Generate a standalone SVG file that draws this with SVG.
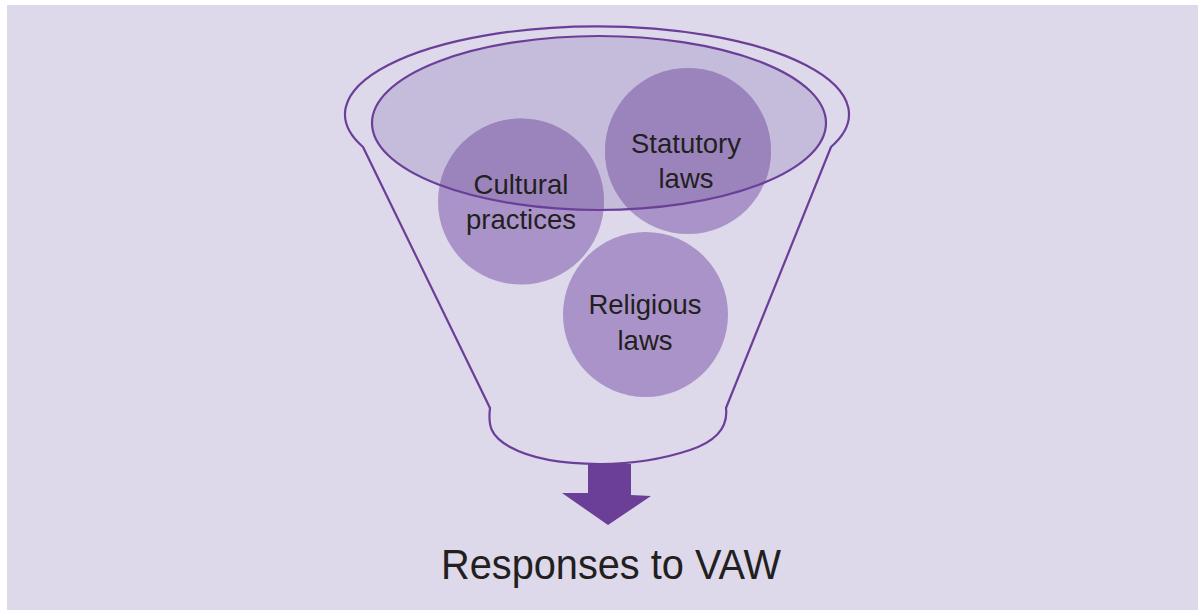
<svg xmlns="http://www.w3.org/2000/svg" width="1198" height="611" viewBox="0 0 1198 611">
  <defs>
    <style>
      .line { fill: none; stroke: #6B3F98; stroke-width: 2.2; }
      .ball { fill: #A993C8; }
      .ball-in { fill: #9B84BC; }
      .label { font-family: "Liberation Sans", Arial, sans-serif; font-size: 27.5px; fill: #231F20; text-anchor: middle; }
      .title { font-family: "Liberation Sans", Arial, sans-serif; font-size: 43px; fill: #231F20; text-anchor: middle; }
    </style>
    <clipPath id="mouthClip">
      <ellipse cx="599" cy="123" rx="227" ry="87"/>
    </clipPath>
  </defs>

  <!-- page -->
  <rect x="0" y="0" width="1198" height="611" fill="#FFFFFF"/>
  <rect x="7" y="5" width="1191" height="605" fill="#DDD8EA"/>

  <!-- funnel body -->
  <g id="funnel">
    <path class="line" d="M363,147 A252,88 0 1 1 831,147 L726,408 C728,425 720,440 690,450 C660,460 630,464 600,464 C560,464 530,458 510,447 C490,436 488,425 490,408 Z"/>
    <ellipse cx="599" cy="123" rx="227" ry="87" fill="#C5BBDB"/>
  </g>

  <!-- ingredient circles -->
  <g id="cultural">
    <circle class="ball" cx="521" cy="201.5" r="83"/>
    <circle class="ball-in" cx="521" cy="201.5" r="83" clip-path="url(#mouthClip)"/>
  </g>
  <g id="statutory">
    <circle class="ball" cx="688" cy="151" r="83"/>
    <circle class="ball-in" cx="688" cy="151" r="83" clip-path="url(#mouthClip)"/>
  </g>
  <g id="religious">
    <circle class="ball" cx="645.5" cy="314.5" r="82.5"/>
  </g>

  <!-- mouth rim -->
  <ellipse class="line" cx="599" cy="123" rx="227" ry="87"/>

  <!-- labels -->
  <g id="labels">
    <text class="label" x="521" y="194">Cultural</text>
    <text class="label" x="521" y="229">practices</text>
    <text class="label" x="686" y="153">Statutory</text>
    <text class="label" x="686" y="188">laws</text>
    <text class="label" x="645" y="314">Religious</text>
    <text class="label" x="645" y="350">laws</text>
  </g>

  <!-- output arrow -->
  <g id="connectors">
    <polygon points="588,464 631,464 631,495 651,496 608,525 562,493 588,493" fill="#6B3F98"/>
  </g>

  <g id="result">
    <text class="title" x="611" y="579" textLength="340" lengthAdjust="spacingAndGlyphs">Responses to VAW</text>
  </g>
</svg>
